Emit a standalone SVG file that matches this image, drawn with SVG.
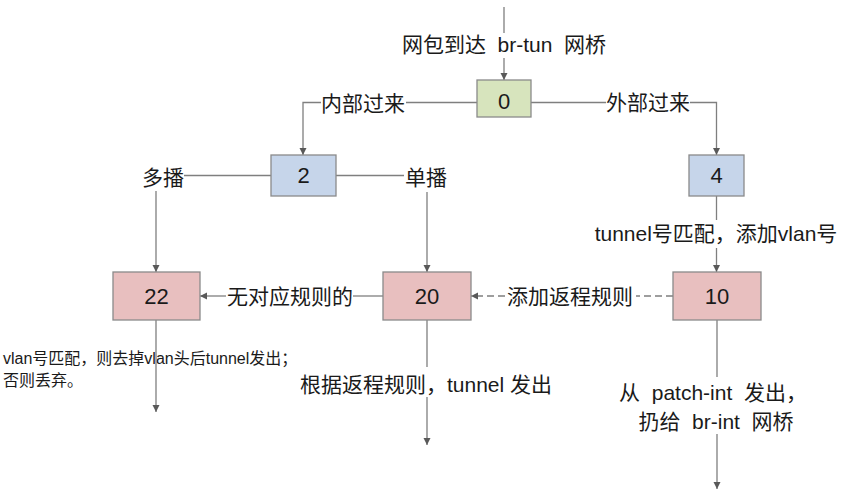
<svg xmlns="http://www.w3.org/2000/svg" width="846" height="500" viewBox="0 0 846 500">
<style>
  text { font-family: "Liberation Sans", "Noto Sans CJK SC", sans-serif; fill: #1a1a1a; }
  .lbl { font-size: 21px; text-anchor: middle; }
  .num { font-size: 22px; text-anchor: middle; }
  .small { font-size: 16px; }
  .box { stroke: #8a8a8a; stroke-width: 1.3; }
  .green { fill: #d7e4bd; }
  .blue { fill: #c6d5ea; }
  .pink { fill: #e8bfbf; }
  .ln { fill: none; stroke: #7f7f7f; stroke-width: 1.3; }
  .arr { marker-end: url(#ah); }
  .dash { stroke-dasharray: 7 4; }
</style>
<defs>
  <marker id="ah" markerWidth="8" markerHeight="8" refX="7" refY="4" orient="auto" markerUnits="userSpaceOnUse">
    <path d="M0,0.5 L7,4 L0,7.5 Z" fill="#595959"/>
  </marker>
</defs>
<rect width="846" height="500" fill="#ffffff"/>
<g id="connectors">
  <path class="ln" d="M504,7 V33"/>
  <path class="ln arr" d="M504,58 V80"/>
  <text class="lbl" x="504" y="51.5" xml:space="preserve">网包到达  br-tun  网桥</text>

  <path class="ln" d="M477,102.5 H406"/>
  <path class="ln arr" d="M321,102.5 H303 V155"/>
  <text class="lbl" x="363" y="110.5">内部过来</text>

  <path class="ln" d="M531,102.5 H606"/>
  <path class="ln arr" d="M690,102.5 H716.5 V155"/>
  <text class="lbl" x="648" y="110">外部过来</text>

  <path class="ln" d="M271,175.5 H184"/>
  <path class="ln arr" d="M156,191 V272"/>
  <text class="lbl" x="163" y="185">多播</text>

  <path class="ln" d="M336,175.5 H404"/>
  <path class="ln arr" d="M427,192 V272"/>
  <text class="lbl" x="426" y="185">单播</text>

  <path class="ln" d="M716.5,196 V220"/>
  <path class="ln arr" d="M716.5,248 V272"/>
  <text class="lbl" x="716" y="241">tunnel号匹配，添加vlan号</text>

  <path class="ln" d="M383,296 H353"/>
  <path class="ln arr" d="M226,296 H200"/>
  <text class="lbl" x="290" y="303.5">无对应规则的</text>

  <path class="ln dash" d="M673,296 H636"/>
  <path class="ln dash arr" d="M505,296 H471"/>
  <text class="lbl" x="570" y="303.5">添加返程规则</text>

  <text class="small" x="3" y="364">vlan号匹配，则去掉vlan头后tunnel发出；</text>
  <text class="small" x="3" y="386">否则丢弃。</text>
  <path class="ln arr" d="M156,320 V412"/>

  <path class="ln" d="M427,320 V367"/>
  <path class="ln arr" d="M427,397 V445"/>
  <text class="lbl" x="426" y="391.5" xml:space="preserve">根据返程规则，tunnel 发出</text>

  <path class="ln" d="M717,320 V377"/>
  <path class="ln arr" d="M717,434 V489"/>
  <text class="lbl" x="713" y="400" xml:space="preserve">从  patch-int  发出，</text>
  <text class="lbl" x="716" y="428.5" xml:space="preserve">扔给  br-int  网桥</text>
</g>
<g id="node-0">
  <rect class="box green" x="477" y="80" width="54" height="37"/>
  <text class="num" x="504" y="109">0</text>
</g>
<g id="node-2">
  <rect class="box blue" x="271" y="155" width="65" height="41"/>
  <text class="num" x="303.5" y="183">2</text>
</g>
<g id="node-4">
  <rect class="box blue" x="689" y="155" width="55" height="41"/>
  <text class="num" x="716.5" y="183">4</text>
</g>
<g id="node-22">
  <rect class="box pink" x="113" y="272" width="87" height="48"/>
  <text class="num" x="156.5" y="304">22</text>
</g>
<g id="node-20">
  <rect class="box pink" x="383" y="272" width="88" height="48"/>
  <text class="num" x="427" y="304">20</text>
</g>
<g id="node-10">
  <rect class="box pink" x="673" y="272" width="88" height="48"/>
  <text class="num" x="717" y="304">10</text>
</g>
</svg>
